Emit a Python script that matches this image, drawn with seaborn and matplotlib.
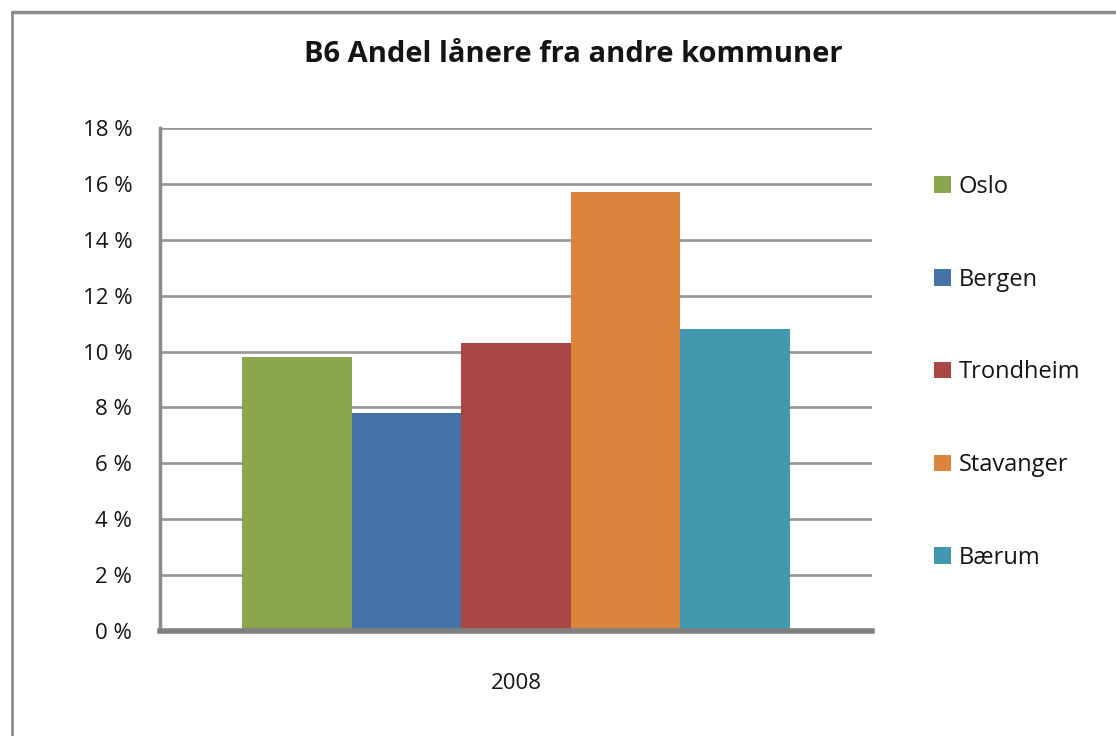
import matplotlib
matplotlib.use("Agg")
import matplotlib.pyplot as plt
from matplotlib.lines import Line2D
import pandas as pd
import seaborn as sns

# ---- data ----
years = ["2008"]
kommuner = ["Oslo", "Bergen", "Trondheim", "Stavanger", "Bærum"]
andel = [9.8, 7.8, 10.3, 15.7, 10.8]
colors = ["#8AA64E", "#4572A7", "#AA4643", "#DB843D", "#4198AF"]
yticks = list(range(0, 20, 2))
ytick_labels = [f"{v} %" for v in yticks]
title = "B6 Andel lånere fra andre kommuner"

df = pd.DataFrame({"år": years * len(kommuner), "kommune": kommuner, "andel": andel})

sns.set_theme(style="white")
plt.rcParams["font.family"] = ["Open Sans", "DejaVu Sans"]
plt.rcParams["text.color"] = "#141414"

W, H = 1116, 736
fig = plt.figure(figsize=(W / 100, H / 100), dpi=100)
fig.patch.set_facecolor("white")

ax_l, ax_r, ax_t, ax_b = 160, 872, 128, 631
ax = fig.add_axes([ax_l / W, 1 - ax_b / H, (ax_r - ax_l) / W, (ax_b - ax_t) / H])

sns.barplot(data=df, x="år", y="andel", hue="kommune", hue_order=kommuner,
            palette=colors, width=0.77, saturation=1, errorbar=None,
            ax=ax, edgecolor="none")

ax.set_ylim(0, 18)
ax.set_xlim(-0.5, 0.5)
ax.set_yticks(yticks)
ax.set_yticklabels(ytick_labels)
ax.set_xlabel("")
ax.set_ylabel("")
ax.yaxis.grid(True, color="#9a9a9a", lw=2)
ax.xaxis.grid(False)
ax.set_axisbelow(True)
for s in ["top", "right"]:
    ax.spines[s].set_visible(False)
ax.spines["left"].set_color("#8a8a8a")
ax.spines["left"].set_linewidth(2.5)
ax.spines["bottom"].set_color("#7f7f7f")
ax.spines["bottom"].set_linewidth(4)
ax.tick_params(axis="y", length=0, pad=20, labelsize=16, labelcolor="#141414")
ax.tick_params(axis="x", length=0, pad=30, labelsize=16, labelcolor="#141414")

handles, labels = ax.get_legend_handles_labels()
ax.legend(handles, labels, loc="upper left",
          bbox_to_anchor=(934 / W, 1 - 175 / H), bbox_transform=fig.transFigure,
          frameon=False, fontsize=17, handlelength=0.7, handleheight=0.7,
          handletextpad=0.34, labelspacing=2.91, borderpad=0, borderaxespad=0)

fig.text(573 / W, 1 - 55 / H, title, ha="center", va="center",
         fontsize=21, fontweight="bold")

# chart area frame
fig.add_artist(Line2D([12 / W, 12 / W], [0, 1 - 12 / H], transform=fig.transFigure,
                      color="#8c8c8c", lw=2))
fig.add_artist(Line2D([12 / W, 1], [1 - 12 / H, 1 - 12 / H], transform=fig.transFigure,
                      color="#8c8c8c", lw=2.5))

fig.savefig("out.png", dpi=100, facecolor="white")
